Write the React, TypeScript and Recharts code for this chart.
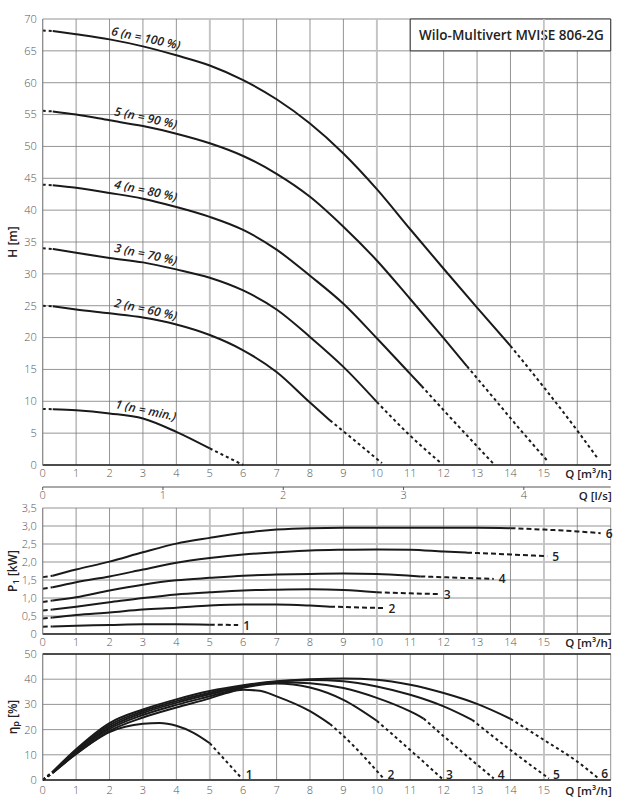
import React from 'react';
import { LineChart, Line, XAxis, YAxis, CartesianGrid, ReferenceLine, ReferenceArea } from 'recharts';

type Pt = [number, number];

const FONT = "'Open Sans', 'DejaVu Sans', Arial, sans-serif";

// ---------- axes / ticks ----------
const Q_MAX = 17;
const Q_TICKS = [0, 1, 2, 3, 4, 5, 6, 7, 8, 9, 10, 11, 12, 13, 14, 15, 16, 17];
const Q_LABEL_MAX = 15;
const Q_MAJOR = [5, 10, 15];
const LS_TICKS = [0, 1, 2, 3, 4];
const M3H_PER_LS = 3.6;
const H_TICKS = [0, 5, 10, 15, 20, 25, 30, 35, 40, 45, 50, 55, 60, 65, 70];
const P_TICKS = [0, 0.5, 1, 1.5, 2, 2.5, 3, 3.5];
const ETA_TICKS = [0, 10, 20, 30, 40, 50];

const TITLE = 'Wilo-Multivert MVISE 806-2G';
const CURVE_NAMES = ['1', '2', '3', '4', '5', '6'];
const SPEED_TEXT = ['1 (n = min.)', '2 (n = 60 %)', '3 (n = 70 %)', '4 (n = 80 %)', '5 (n = 90 %)', '6 (n = 100 %)'];
const SPEED_LABEL_Q = 3;

// ---------- H [m] (Q in m³/h) : solid part, then dashed tail ----------
const H1: Pt[] = [[0, 8.8], [0.3, 8.75], [1, 8.6], [2, 8.1], [3, 7.3], [4, 5.2], [5, 2.6]];
const H1_TAIL: Pt[] = [[6.0, 0]];
const H2: Pt[] = [[0, 25.0], [0.3, 24.9], [1, 24.4], [2, 23.8], [3, 23.15], [4, 22.05], [5, 20.4], [6, 18.0], [7, 14.6], [8, 9.8], [8.6, 7.0]];
const H2_TAIL: Pt[] = [[9.3, 4.0], [10.15, 0.3]];
const H3: Pt[] = [[0, 34.0], [0.3, 33.9], [1, 33.3], [2, 32.5], [3, 31.8], [4, 30.7], [5, 29.4], [6, 27.4], [7, 24.4], [8, 20.1], [9, 15.4], [10, 9.9]];
const H3_TAIL: Pt[] = [[11, 4.6], [11.94, 0.2]];
const H4: Pt[] = [[0, 44.0], [0.3, 43.9], [1, 43.5], [2, 42.7], [3, 41.8], [4, 40.5], [5, 38.95], [6, 36.9], [7, 33.8], [8, 29.7], [9, 25.3], [10, 19.9], [11, 14.3], [11.34, 12.4]];
const H4_TAIL: Pt[] = [[12, 8.6], [13.49, 0.2]];
const H5: Pt[] = [[0, 55.6], [0.3, 55.5], [1, 55.0], [2, 54.1], [3, 53.2], [4, 52.0], [5, 50.5], [6, 48.5], [7, 45.7], [8, 42.1], [9, 37.4], [10, 32.1], [11, 26.05], [12, 19.9], [12.7, 15.5]];
const H5_TAIL: Pt[] = [[13.5, 10.5], [14.3, 5.5], [15.13, 0.5]];
const H6: Pt[] = [[0, 68.2], [0.3, 68.1], [1, 67.6], [2, 66.8], [3, 65.7], [4, 64.3], [5, 62.7], [6, 60.4], [7, 57.4], [8, 53.6], [9, 48.9], [10, 43.3], [11, 37.0], [12, 30.8], [13, 24.7], [14, 18.7]];
const H6_TAIL: Pt[] = [[15, 12.2], [16, 5.4], [16.63, 0.9]];

// ---------- P1 [kW] ----------
const P1: Pt[] = [[0, 0.2], [0.3, 0.21], [1, 0.23], [2, 0.25], [3, 0.27], [4, 0.27], [5, 0.26]];
const P1_TAIL: Pt[] = [[5.85, 0.25]];
const P2: Pt[] = [[0, 0.43], [0.3, 0.46], [1, 0.53], [2, 0.6], [3, 0.68], [4, 0.73], [5, 0.79], [6, 0.82], [7, 0.82], [8, 0.79], [8.6, 0.76]];
const P2_TAIL: Pt[] = [[10.2, 0.72]];
const P3: Pt[] = [[0, 0.65], [0.3, 0.68], [1, 0.76], [2, 0.88], [3, 1.0], [4, 1.1], [5, 1.16], [6, 1.21], [7, 1.23], [8, 1.24], [9, 1.22], [10, 1.16]];
const P3_TAIL: Pt[] = [[11, 1.13], [11.85, 1.11]];
const P4: Pt[] = [[0, 0.89], [0.3, 0.93], [1, 1.02], [2, 1.21], [3, 1.37], [4, 1.49], [5, 1.56], [6, 1.62], [7, 1.65], [8, 1.67], [9, 1.68], [10, 1.67], [11, 1.62], [11.3, 1.6]];
const P4_TAIL: Pt[] = [[12.5, 1.56], [13.5, 1.53]];
const P5: Pt[] = [[0, 1.26], [0.3, 1.3], [1, 1.44], [2, 1.6], [3, 1.79], [4, 1.98], [5, 2.11], [6, 2.21], [7, 2.27], [8, 2.32], [9, 2.34], [10, 2.35], [11, 2.34], [12, 2.29], [12.7, 2.26]];
const P5_TAIL: Pt[] = [[14, 2.21], [15.1, 2.16]];
const P6: Pt[] = [[0, 1.58], [0.3, 1.62], [1, 1.79], [2, 2.01], [3, 2.27], [4, 2.51], [5, 2.67], [6, 2.81], [7, 2.9], [8, 2.94], [9, 2.95], [10, 2.95], [11, 2.95], [12, 2.95], [13, 2.95], [14, 2.94]];
const P6_TAIL: Pt[] = [[15, 2.9], [16, 2.85], [16.7, 2.8]];

// ---------- eta_p [%] ----------
const E1: Pt[] = [[0, 0], [0.3, 2.8], [1, 10.3], [2, 19.0], [3, 22.3], [3.5, 22.6], [4, 21.5], [4.5, 18.8], [5, 14.6]];
const E1_TAIL: Pt[] = [[5.96, 0.6]];
const E2: Pt[] = [[0, 0], [0.3, 2.9], [1, 10.4], [2, 19.5], [3, 24.8], [4, 28.8], [5, 32.4], [5.5, 34.5], [6, 35.8], [6.5, 35.4], [7, 33.2], [8, 27.3], [8.6, 22.2]];
const E2_TAIL: Pt[] = [[9, 17.5], [10.2, 0.6]];
const E3: Pt[] = [[0, 0], [0.3, 3.0], [1, 11.0], [2, 20.3], [3, 25.8], [4, 29.8], [5, 33.2], [6, 36.6], [7, 38.3], [8, 36.7], [9, 31.8], [10, 23.5]];
const E3_TAIL: Pt[] = [[11, 11.9], [11.95, 0.6]];
const E4: Pt[] = [[0, 0], [0.3, 3.1], [1, 11.4], [2, 21.0], [3, 26.6], [4, 30.6], [5, 34.0], [6, 37.0], [7, 38.8], [8, 38.4], [9, 36.5], [10, 32.6], [11, 27.2], [11.4, 24.4]];
const E4_TAIL: Pt[] = [[12, 17.4], [13.5, 0.6]];
const E5: Pt[] = [[0, 0], [0.3, 3.2], [1, 11.8], [2, 21.8], [3, 27.3], [4, 31.3], [5, 34.6], [6, 37.3], [7, 39.0], [8, 39.7], [9, 39.2], [10, 37.1], [11, 33.8], [12, 29.2], [12.85, 23.9]];
const E5_TAIL: Pt[] = [[14, 11.9], [15.15, 0.6]];
const E6: Pt[] = [[0, 0], [0.3, 3.3], [1, 12.2], [2, 22.6], [3, 28.0], [4, 32.0], [5, 35.3], [6, 37.6], [7, 39.2], [8, 40.0], [9, 40.3], [10, 39.8], [11, 37.8], [12, 34.5], [13, 30.2], [14, 24.3]];
const E6_TAIL: Pt[] = [[15, 15.9], [16, 7.3], [16.6, 1.0]];

const H_CURVES = [H1, H2, H3, H4, H5, H6];
const H_TAILS = [H1_TAIL, H2_TAIL, H3_TAIL, H4_TAIL, H5_TAIL, H6_TAIL];
const P_CURVES = [P1, P2, P3, P4, P5, P6];
const P_TAILS = [P1_TAIL, P2_TAIL, P3_TAIL, P4_TAIL, P5_TAIL, P6_TAIL];
const E_CURVES = [E1, E2, E3, E4, E5, E6];
const E_TAILS = [E1_TAIL, E2_TAIL, E3_TAIL, E4_TAIL, E5_TAIL, E6_TAIL];

// ---------- helpers ----------
const rows = (pts: Pt[]) => pts.map(([q, v]) => ({ q, v }));
const INK = '#1a1a1a';
const tickStyle = { fontSize: 11, fill: '#555', fontFamily: FONT, fontWeight: 300 };
const qFmt = (v: number) => (v > Q_LABEL_MAX ? '' : String(v));
const pFmt = (v: number) => (v === 0 ? '0' : v.toFixed(1).replace('.', ','));
const LS_TICKS_M3H = LS_TICKS.map((l) => l * M3H_PER_LS);
const lsFmt = (v: number) => String(Math.round(v / M3H_PER_LS));
const LS_SPAN = rows([[0, 0], [Q_MAX, 0]]);

const px = (p: any) => (p.x !== undefined ? p.x : p.viewBox ? p.viewBox.x : 0);
const py = (p: any) => (p.y !== undefined ? p.y : p.viewBox ? p.viewBox.y : 0);

function XTitle(props: any) {
  const { viewBox, text, dy } = props;
  return (
    <text x={viewBox.x + viewBox.width + 1} y={viewBox.y + dy} textAnchor="end" dominantBaseline="central"
      fontFamily={FONT} fontSize={11.5} fontWeight={600} fill="#222">{text}</text>
  );
}

function YTitle(props: any) {
  const { viewBox, main, sub, rest } = props;
  const cx = 12;
  const cy = viewBox.y + viewBox.height / 2;
  return (
    <text x={cx} y={cy} transform={`rotate(-90 ${cx} ${cy})`} textAnchor="middle" dominantBaseline="central"
      fontFamily={FONT} fontSize={12} fontWeight={600} fill="#222">
      {main}
      {sub ? <tspan dy={3} fontSize={9}>{sub}</tspan> : null}
      {sub ? <tspan dy={-3}>{rest}</tspan> : rest}
    </text>
  );
}

function TitleBox(props: any) {
  const { viewBox } = props;
  return (
    <text x={viewBox.x + viewBox.width / 2 + 1} y={viewBox.y + viewBox.height / 2} textAnchor="middle" dominantBaseline="central"
      fontFamily={FONT} fontSize={13.5} fontWeight={600} fill="#222">{TITLE}</text>
  );
}

function curveLines(
  key: string,
  curves: Pt[][],
  tails: Pt[][],
  dash: string,
  endLabel: null | { dx: number; dy: number },
  midLabel: boolean
) {
  const out: React.ReactNode[] = [];
  curves.forEach((pts, i) => {
    const head = rows(pts.slice(0, 2));
    const solid = rows(pts.slice(1));
    const tail = rows([pts[pts.length - 1], ...tails[i]]);
    const midIdx = solid.findIndex((r) => r.q === SPEED_LABEL_Q);
    const common = {
      dataKey: 'v',
      stroke: INK,
      strokeWidth: 2,
      dot: false,
      activeDot: false,
      isAnimationActive: false,
      legendType: 'none' as const,
    };
    out.push(<Line key={`${key}h${i}`} {...common} data={head} type="linear" strokeDasharray={dash} />);
    out.push(
      <Line
        key={`${key}s${i}`}
        {...common}
        data={solid}
        type="monotone"
        label={
          midLabel
            ? (p: any) => {
                if (p.index !== midIdx) return null;
                const x = px(p) + 3;
                const y = py(p) - 8.5;
                return (
                  <text key={`ml${i}`} x={x} y={y} transform={`rotate(12 ${x} ${y})`} textAnchor="middle"
                    dominantBaseline="central" fontFamily={FONT} fontSize={12} fontStyle="italic"
                    fontWeight={600} fill="#222">{SPEED_TEXT[i]}</text>
                );
              }
            : undefined
        }
      />
    );
    out.push(
      <Line
        key={`${key}t${i}`}
        {...common}
        data={tail}
        type="monotone"
        strokeDasharray={dash}
        label={
          endLabel
            ? (p: any) => {
                if (p.index !== tail.length - 1) return null;
                return (
                  <text key={`el${i}`} x={px(p) + endLabel.dx} y={py(p) + endLabel.dy} dominantBaseline="central"
                    fontFamily={FONT} fontSize={12} fontWeight={600} fill="#222">{CURVE_NAMES[i]}</text>
                );
              }
            : undefined
        }
      />
    );
  });
  return out;
}

const gridProps = { stroke: '#7a7a7a', strokeWidth: 0.8 };

function majorLines(k: string) {
  return Q_MAJOR.map((q) => (
    <ReferenceLine key={`${k}m${q}`} x={q} stroke="#c4c4c4" strokeWidth={1.8} />
  ));
}

export default function App() {
  return (
    <div style={{ position: 'absolute', left: 0, top: 0, width: 632, height: 800, background: '#fff' }}>
      {/* H chart */}
      <div style={{ position: 'absolute', left: 0, top: 0 }}>
        <LineChart width={632} height={507} margin={{ top: 19, right: 21.3, bottom: 0, left: 0 }}>
          <CartesianGrid {...gridProps} />
          {majorLines('h')}
          <XAxis dataKey="q" type="number" domain={[0, Q_MAX]} ticks={Q_TICKS} interval={0} allowDataOverflow
            tickFormatter={qFmt} tick={tickStyle} tickLine={false} tickSize={0} tickMargin={4.5} height={22}
            axisLine={{ stroke: '#222', strokeWidth: 1.3 }} label={<XTitle text="Q [m³/h]" dy={8.5} />} />
          <XAxis xAxisId="ls" dataKey="q" type="number" domain={[0, Q_MAX]} ticks={LS_TICKS_M3H} interval={0} allowDataOverflow
            tickFormatter={lsFmt} tick={tickStyle} tickLine={{ stroke: '#555' }} tickSize={3} tickMargin={1.5} height={20}
            axisLine={{ stroke: '#555', strokeWidth: 1 }} label={<XTitle text="Q [l/s]" dy={8} />} />
          <YAxis type="number" domain={[0, 70]} ticks={H_TICKS} interval={0} width={42.7} tick={tickStyle}
            tickLine={false} tickSize={0} tickMargin={6} axisLine={{ stroke: '#888' }}
            label={<YTitle main="H [m]" />} />
          <ReferenceArea x1={11} x2={17} y1={65} y2={70} fill="#fff" fillOpacity={1} stroke="#333" strokeWidth={1}
            label={<TitleBox />} />
          <Line xAxisId="ls" data={LS_SPAN} dataKey="v" stroke="none" dot={false} activeDot={false}
            isAnimationActive={false} legendType="none" />
          {curveLines('H', H_CURVES, H_TAILS, '3 3', null, true)}
        </LineChart>
      </div>

      {/* P1 chart */}
      <div style={{ position: 'absolute', left: 0, top: 500 }}>
        <LineChart width={632} height={154} margin={{ top: 8, right: 21.3, bottom: 0, left: 0 }}>
          <CartesianGrid {...gridProps} />
          {majorLines('p')}
          <XAxis dataKey="q" type="number" domain={[0, Q_MAX]} ticks={Q_TICKS} interval={0} allowDataOverflow
            tickFormatter={qFmt} tick={tickStyle} tickLine={false} tickSize={0} tickMargin={4.5} height={20}
            axisLine={{ stroke: '#222', strokeWidth: 1.3 }} label={<XTitle text="Q [m³/h]" dy={8} />} />
          <YAxis type="number" domain={[0, 3.5]} ticks={P_TICKS} interval={0} width={42.7} tick={tickStyle}
            tickFormatter={pFmt} tickLine={false} tickSize={0} tickMargin={6} axisLine={{ stroke: '#888' }}
            label={<YTitle main="P" sub="1" rest=" [kW]" />} />
          {curveLines('P', P_CURVES, P_TAILS, '5 3', { dx: 5, dy: 0 }, false)}
        </LineChart>
      </div>

      {/* eta chart */}
      <div style={{ position: 'absolute', left: 0, top: 646 }}>
        <LineChart width={632} height={154} margin={{ top: 8, right: 21.3, bottom: 0, left: 0 }}>
          <CartesianGrid {...gridProps} />
          {majorLines('e')}
          <ReferenceLine y={50} stroke="#222" strokeWidth={1.3} />
          <XAxis dataKey="q" type="number" domain={[0, Q_MAX]} ticks={Q_TICKS} interval={0} allowDataOverflow
            tickFormatter={qFmt} tick={tickStyle} tickLine={false} tickSize={0} tickMargin={6} height={20}
            axisLine={{ stroke: '#222', strokeWidth: 1.3 }} label={<XTitle text="Q [m³/h]" dy={10} />} />
          <YAxis type="number" domain={[0, 50]} ticks={ETA_TICKS} interval={0} width={42.7} tick={tickStyle}
            tickLine={false} tickSize={0} tickMargin={6} axisLine={{ stroke: '#888' }}
            label={<YTitle main="η" sub="p" rest=" [%]" />} />
          {curveLines('E', E_CURVES, E_TAILS, '3 3', { dx: 4, dy: -4 }, false)}
        </LineChart>
      </div>
    </div>
  );
}
